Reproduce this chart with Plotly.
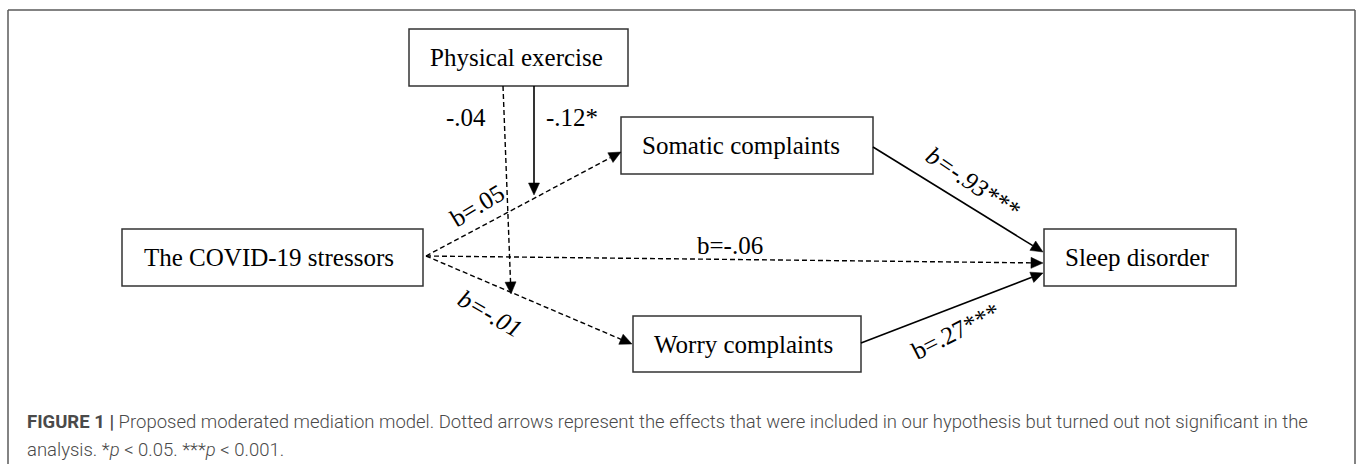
import math
import plotly.graph_objects as go

# ---------------- data ----------------
node_keys = ["PE", "CS", "SC", "WC", "SD"]
node_names = ["Physical exercise", "The COVID-19 stressors", "Somatic complaints",
              "Worry complaints", "Sleep disorder"]

edge_keys = ["CS-SC", "CS-WC", "CS-SD", "SC-SD", "WC-SD", "PE-mod1", "PE-mod2"]
edge_labels = ["b=.05", "b=-.01", "b=-.06", "b=-.93***", "b=.27***", "-.12*", "-.04"]
edge_significant = [False, False, False, True, True, True, False]
edge_italic = [False, True, False, True, False, False, False]

caption_line1 = ("<b>FIGURE 1 |</b> Proposed moderated mediation model. Dotted arrows represent the "
                 "effects that were included in our hypothesis but turned out not significant in the")
caption_line2 = "analysis. *<i>p</i> &lt; 0.05. ***<i>p</i> &lt; 0.001."

# ---------------- layout (pixel geometry) ----------------
W, H = 1357, 464
box_rect = {  # x0, y0, x1, y1
    "PE": (409, 29, 628, 86),
    "CS": (122, 229, 423, 286),
    "SC": (621, 117, 873, 174),
    "WC": (633, 316, 861, 372),
    "SD": (1044, 229, 1236, 286),
}
box_text_x = {"PE": 428, "CS": 142, "SC": 640, "WC": 652, "SD": 1063}

edge_geom = {  # start, end (tip)
    "CS-SC": ((426, 256), (621, 152)),
    "CS-WC": ((426, 256), (632, 344)),
    "CS-SD": ((426, 256), (1043, 263)),
    "SC-SD": ((873, 147), (1043, 252)),
    "WC-SD": ((861, 343), (1043, 273)),
    "PE-mod1": ((534, 86), (534, 195)),
    "PE-mod2": ((503, 86), (511, 294)),
}
label_geom = {  # x, y, angle
    "CS-SC": (477, 205, -31),
    "CS-WC": (490, 313, 30),
    "CS-SD": (730, 245, 0),
    "SC-SD": (973, 182, 34),
    "WC-SD": (955, 331, -27),
    "PE-mod1": (572, 117, 0),
    "PE-mod2": (466, 117, 0),
}

SERIF = "Liberation Serif, Times New Roman, serif"
SANS = "Roboto, Liberation Sans, Arial, sans-serif"
FS = 25
CAP_FS = 18.5
HEAD_LEN, HEAD_HALF = 12, 5.5

shapes = []
annotations = []

# frame
frame_col = "#5a5a5a"
for (x0, y0, x1, y1) in [(8, 10, 1355, 10), (8, 10, 8, H + 5), (1355, 10, 1355, H + 5)]:
    shapes.append(dict(type="line", x0=x0, y0=y0, x1=x1, y1=y1, xref="x", yref="y",
                       line=dict(color=frame_col, width=1.5)))

# boxes
for k, name in zip(node_keys, node_names):
    x0, y0, x1, y1 = box_rect[k]
    shapes.append(dict(type="rect", x0=x0, y0=y0, x1=x1, y1=y1, xref="x", yref="y",
                       line=dict(color="#333333", width=1.5), fillcolor="white"))
    annotations.append(dict(x=box_text_x[k], y=(y0 + y1) / 2, xref="x", yref="y",
                            text=name, showarrow=False, xanchor="left", yanchor="middle",
                            font=dict(family=SERIF, size=FS, color="black")))

# edges
for k, lab, sig, ital in zip(edge_keys, edge_labels, edge_significant, edge_italic):
    (sx, sy), (tx, ty) = edge_geom[k]
    dx, dy = tx - sx, ty - sy
    L = math.hypot(dx, dy)
    ux, uy = dx / L, dy / L
    bx, by = tx - ux * HEAD_LEN, ty - uy * HEAD_LEN
    px, py = -uy, ux
    shapes.append(dict(type="line", x0=sx, y0=sy, x1=bx, y1=by, xref="x", yref="y",
                       line=dict(color="black", width=1.6 if sig else 1.4,
                                 dash="solid" if sig else "5px,3px")))
    path = (f"M {tx},{ty} L {bx + px * HEAD_HALF},{by + py * HEAD_HALF} "
            f"L {bx - px * HEAD_HALF},{by - py * HEAD_HALF} Z")
    shapes.append(dict(type="path", path=path, xref="x", yref="y",
                       fillcolor="black", line=dict(color="black", width=0.5)))
    lx, ly, ang = label_geom[k]
    txt = f"<i>{lab}</i>" if ital else lab
    annotations.append(dict(x=lx, y=ly, xref="x", yref="y", text=txt, showarrow=False,
                            textangle=ang, xanchor="center", yanchor="middle",
                            font=dict(family=SERIF, size=FS, color="black")))

# caption
annotations.append(dict(x=25, y=422, xref="x", yref="y", text=caption_line1, showarrow=False,
                        xanchor="left", yanchor="middle",
                        font=dict(family=SANS, size=CAP_FS, color="#4a4a4a", weight=300)))
annotations.append(dict(x=25, y=450, xref="x", yref="y", text=caption_line2, showarrow=False,
                        xanchor="left", yanchor="middle",
                        font=dict(family=SANS, size=CAP_FS, color="#4a4a4a", weight=300)))

fig = go.Figure()
fig.update_layout(
    width=W, height=H, autosize=False,
    margin=dict(l=0, r=0, t=0, b=0),
    paper_bgcolor="white", plot_bgcolor="white",
    xaxis=dict(range=[0, W], visible=False, fixedrange=True),
    yaxis=dict(range=[H, 0], visible=False, fixedrange=True),
    shapes=shapes, annotations=annotations, showlegend=False,
)
fig.write_html("out.html", config={"displayModeBar": False},
               post_script="document.body.style.margin='0px';document.body.style.overflow='hidden';")
